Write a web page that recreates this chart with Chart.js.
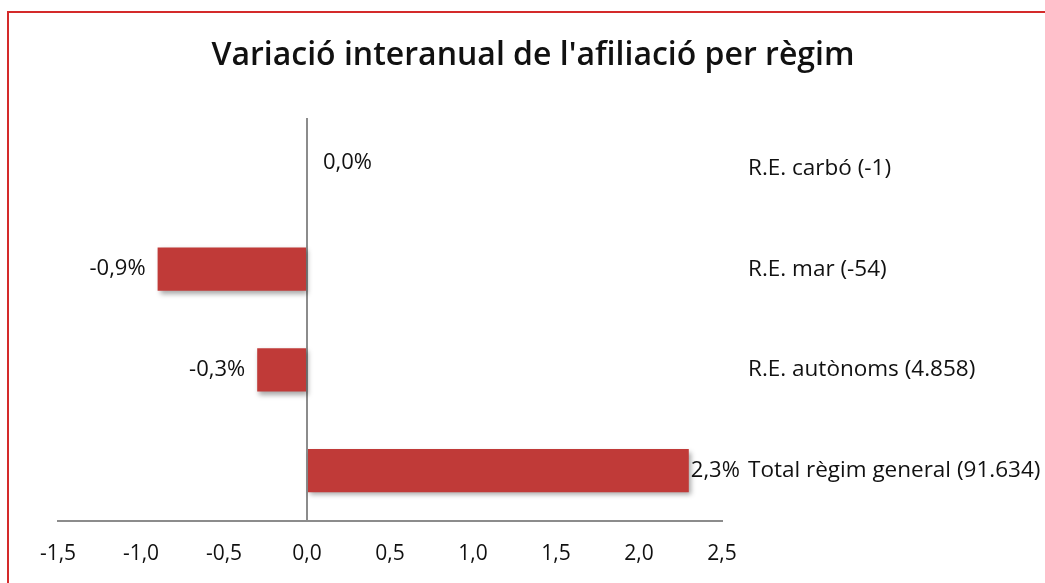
<!DOCTYPE html>
<html>
<head>
<meta charset="utf-8">
<script src="https://cdn.jsdelivr.net/npm/chart.js@4.4.1/dist/chart.umd.min.js"></script>
<style>
  html, body { margin: 0; padding: 0; background: #fff; }
  #wrap { width: 1045px; height: 583px; position: relative; }
</style>
</head>
<body>
<div id="wrap"><canvas id="myChart"></canvas></div>
<script>
// Chart data
const chartTitle = "Variació interanual de l'afiliació per règim";
const categories = ['R.E. carbó (-1)', 'R.E. mar (-54)', 'R.E. autònoms (4.858)', 'Total règim general (91.634)'];
const variation = [0.0, -0.9, -0.3, 2.3];
const tickValues = [-1.5, -1.0, -0.5, 0.0, 0.5, 1.0, 1.5, 2.0, 2.5];

const FONT = "'Open Sans', sans-serif";

// format with comma decimal, e.g. "2,3%"
function fmt(v, digits) {
  return v.toFixed(digits).replace('.', ',');
}

// red gradient per bar, lighter on top
function barGradient(context) {
  const chart = context.chart;
  if (!chart.chartArea) return '#c03a38';
  const el = context.element;
  if (!el || el.y === undefined || el.height === undefined) return '#c03a38';
  const top = el.y - el.height / 2;
  const g = chart.ctx.createLinearGradient(0, top, 0, top + el.height);
  g.addColorStop(0, '#d8443f');
  g.addColorStop(0.4, '#c83d3a');
  g.addColorStop(1, '#9c2d2e');
  return g;
}

// red frame at top and left + title (centred on the whole frame, not the plot)
const framePlugin = {
  id: 'frame',
  beforeDraw(chart) {
    const c = chart.ctx;
    c.save();
    c.strokeStyle = '#d42a2a';
    c.lineWidth = 2;
    c.beginPath();
    c.moveTo(8, chart.height);
    c.lineTo(8, 12);
    c.lineTo(chart.width, 12);
    c.stroke();

    c.fillStyle = '#111';
    c.font = '600 32px ' + FONT;
    c.textAlign = 'center';
    c.textBaseline = 'middle';
    c.fillText(chartTitle, 533, 56);
    c.restore();
  }
};

// soft shadow under bars
const shadowPlugin = {
  id: 'barShadow',
  beforeDatasetDraw(chart) {
    const c = chart.ctx;
    c.save();
    c.shadowColor = 'rgba(0,0,0,0.35)';
    c.shadowBlur = 5;
    c.shadowOffsetX = 2;
    c.shadowOffsetY = 3;
  },
  afterDatasetDraw(chart) {
    chart.ctx.restore();
  }
};

// value labels next to bars
const valueLabels = {
  id: 'valueLabels',
  afterDatasetsDraw(chart) {
    const c = chart.ctx;
    const meta = chart.getDatasetMeta(0);
    c.save();
    c.font = '22px ' + FONT;
    c.fillStyle = '#111';
    c.textBaseline = 'middle';
    meta.data.forEach((bar, i) => {
      const v = variation[i];
      const txt = fmt(v, 1) + '%';
      if (v < 0) {
        c.textAlign = 'right';
        c.fillText(txt, bar.x - 12, bar.y);
      } else if (v > 0) {
        c.textAlign = 'left';
        c.fillText(txt, bar.x + 2, bar.y);
      } else {
        c.textAlign = 'left';
        c.fillText(txt, bar.x + 16, bar.y - 6);
      }
    });
    c.restore();
  }
};

const ctx = document.getElementById('myChart');

new Chart(ctx, {
  type: 'bar',
  data: {
    labels: categories,
    datasets: [{
      data: variation,
      backgroundColor: barGradient,
      borderWidth: 0,
      categoryPercentage: 1.0,
      barPercentage: 0.43
    }]
  },
  plugins: [framePlugin, shadowPlugin, valueLabels],
  options: {
    indexAxis: 'y',
    responsive: true,
    maintainAspectRatio: false,
    animation: false,
    layout: {
      padding: { left: 58, right: 0, top: 118, bottom: 0 }
    },
    plugins: {
      legend: { display: false },
      tooltip: { enabled: false },
      title: { display: false }
    },
    scales: {
      x: {
        min: -1.5,
        max: 2.5,
        afterBuildTicks: (scale) => {
          scale.ticks = tickValues.map(v => ({ value: v }));
        },
        afterFit: (scale) => { scale.height = 62; },
        ticks: {
          color: '#111',
          font: { family: FONT, size: 21 },
          padding: 20,
          maxRotation: 0,
          callback: (v) => fmt(v, 1)
        },
        grid: {
          drawTicks: false,
          color: (c) => (c.tick && c.tick.value === 0 ? '#8c8c8c' : 'transparent'),
          lineWidth: 2
        },
        border: { display: true, color: '#8c8c8c', width: 2 }
      },
      y: {
        position: 'right',
        afterFit: (scale) => { scale.width = 323; },
        ticks: {
          color: '#111',
          font: { family: FONT, size: 22.5 },
          crossAlign: 'near',
          padding: 26
        },
        grid: { display: false, drawTicks: false },
        border: { display: false }
      }
    }
  }
});
</script>
</body>
</html>
